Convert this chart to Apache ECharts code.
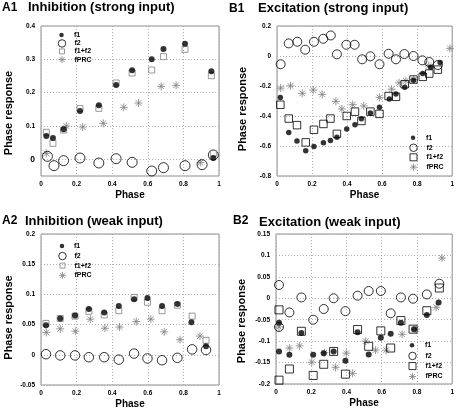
<!DOCTYPE html>
<html>
<head>
<meta charset="utf-8">
<script src="https://cdn.jsdelivr.net/npm/echarts@6/dist/echarts.min.js"></script>
<style>html,body{margin:0;padding:0;background:#fff;}#c{width:457px;height:413px;}</style>
</head>
<body>
<div id="c"></div>
<script>
// ---------- data ----------
const xTicks = [0, 0.2, 0.4, 0.6, 0.8, 1];
const A1_yTicks = [0, 0.1, 0.2, 0.3, 0.4];

const A1_f1 = [[0.030,0.070],[0.067,0.064],[0.127,0.090],[0.219,0.145],[0.325,0.162],[0.422,0.223],[0.512,0.267],[0.622,0.300],[0.688,0.331],[0.809,0.347],[0.957,0.264],[0.968,0.004]];
const A1_f2 = [[0.036,0.009],[0.073,-0.019],[0.127,-0.004],[0.219,0.004],[0.325,-0.011],[0.422,0.002],[0.512,-0.009],[0.622,-0.035],[0.688,-0.025],[0.809,-0.019],[0.905,-0.016],[0.968,0.013]];
const A1_sum = [[0.030,0.081],[0.067,0.048],[0.127,0.088],[0.219,0.152],[0.325,0.153],[0.422,0.229],[0.512,0.259],[0.622,0.268],[0.688,0.308],[0.809,0.330],[0.957,0.251],[0.968,0.018]];
const A1_prc = [[0.030,0.018],[0.142,0.100],[0.234,0.097],[0.350,0.108],[0.465,0.156],[0.548,0.169],[0.675,0.219],[0.759,0.222],[0.895,-0.010]];

const B1_f1 = [[0.019,-0.276],[0.067,-0.510],[0.114,-0.567],[0.164,-0.631],[0.211,-0.603],[0.265,-0.578],[0.305,-0.563],[0.342,-0.541],[0.398,-0.486],[0.445,-0.459],[0.482,-0.419],[0.533,-0.380],[0.585,-0.342],[0.641,-0.287],[0.679,-0.254],[0.729,-0.208],[0.779,-0.161],[0.832,-0.117],[0.878,-0.075],[0.931,-0.044]];
const B1_f2 = [[0.021,-0.055],[0.067,0.084],[0.116,0.095],[0.161,0.042],[0.211,0.095],[0.264,0.115],[0.307,0.137],[0.342,0.011],[0.396,0.075],[0.443,0.075],[0.486,-0.022],[0.533,-0.002],[0.585,-0.055],[0.637,0.015],[0.679,-0.022],[0.727,0.013],[0.779,0.000],[0.830,-0.029],[0.869,-0.040],[0.918,-0.060]];
const B1_sum = [[0.019,-0.325],[0.067,-0.417],[0.114,-0.461],[0.164,-0.576],[0.211,-0.492],[0.265,-0.453],[0.305,-0.417],[0.342,-0.519],[0.398,-0.400],[0.445,-0.371],[0.482,-0.433],[0.533,-0.371],[0.585,-0.386],[0.637,-0.267],[0.679,-0.272],[0.729,-0.188],[0.779,-0.157],[0.832,-0.139],[0.869,-0.117],[0.918,-0.091]];
const B1_prc = [[0.021,-0.214],[0.077,-0.199],[0.144,-0.249],[0.207,-0.227],[0.258,-0.256],[0.336,-0.302],[0.370,-0.353],[0.432,-0.324],[0.495,-0.333],[0.585,-0.276],[0.654,-0.221],[0.697,-0.179],[0.735,-0.166],[0.781,-0.157],[0.866,-0.066],[0.987,0.051]];

const A2_f1 = [[0.028,0.049],[0.108,0.060],[0.191,0.065],[0.269,0.076],[0.355,0.070],[0.437,0.081],[0.523,0.092],[0.598,0.094],[0.680,0.081],[0.766,0.084],[0.845,0.054],[0.927,0.014]];
const A2_f2 = [[0.028,0.001],[0.108,-0.001],[0.191,-0.001],[0.269,-0.004],[0.355,-0.004],[0.437,-0.008],[0.523,0.002],[0.598,-0.006],[0.680,-0.009],[0.766,-0.005],[0.849,0.009],[0.927,0.008]];
const A2_sum = [[0.028,0.052],[0.108,0.060],[0.191,0.064],[0.269,0.072],[0.355,0.066],[0.437,0.073],[0.523,0.095],[0.598,0.087],[0.680,0.073],[0.766,0.082],[0.849,0.064],[0.927,0.024]];
const A2_prc = [[0.030,0.037],[0.108,0.043],[0.193,0.039],[0.277,0.059],[0.359,0.044],[0.441,0.046],[0.535,0.055],[0.617,0.059],[0.692,0.038],[0.781,0.025],[0.893,0.031]];

const B2_f1 = [[0.017,-0.057],[0.017,-0.124],[0.076,-0.132],[0.144,-0.081],[0.211,-0.132],[0.271,-0.128],[0.327,-0.124],[0.394,-0.146],[0.463,-0.079],[0.526,-0.131],[0.595,-0.092],[0.651,-0.083],[0.709,-0.057],[0.783,-0.072],[0.856,-0.039],[0.923,-0.010]];
const B2_f2 = [[0.017,0.031],[0.017,-0.067],[0.076,-0.033],[0.144,0.002],[0.211,-0.050],[0.271,-0.025],[0.327,0.000],[0.394,-0.030],[0.463,0.006],[0.526,0.017],[0.595,0.017],[0.651,-0.035],[0.709,0.002],[0.778,-0.001],[0.856,0.009],[0.927,0.034]];
const B2_sum = [[0.017,-0.027],[0.017,-0.191],[0.076,-0.165],[0.144,-0.077],[0.211,-0.180],[0.271,-0.154],[0.327,-0.124],[0.394,-0.177],[0.463,-0.073],[0.526,-0.112],[0.595,-0.076],[0.651,-0.116],[0.709,-0.052],[0.778,-0.072],[0.856,-0.029],[0.927,0.024]];
const B2_prc = [[0.017,-0.067],[0.076,-0.116],[0.134,-0.111],[0.203,-0.149],[0.274,-0.127],[0.338,-0.161],[0.399,-0.128],[0.435,-0.175],[0.509,-0.100],[0.565,-0.121],[0.625,-0.121],[0.716,-0.084],[0.794,-0.072],[0.909,-0.021],[0.942,0.094]];

const seriesNames = ['f1', 'f2', 'f1+f2', 'fPRC'];
const panelLabels = ['A1', 'B1', 'A2', 'B2'];
const panelTitles = ['Inhibition (strong input)', 'Excitation (strong input)', 'Inhibition (weak input)', 'Excitation (weak input)'];
const xName = 'Phase';
const yName = 'Phase response';

// ---------- styling ----------
const FONT = '"Liberation Sans", Arial, Helvetica, sans-serif';
// the reference titles look like a tall, narrow sans: use a narrow face if installed
function hasFont(name) {
  const ctx = document.createElement('canvas').getContext('2d');
  ctx.font = 'bold 40px monospace';
  const a = ctx.measureText('Inhibition (strong input) 0123').width;
  ctx.font = 'bold 40px "' + name + '", monospace';
  const b = ctx.measureText('Inhibition (strong input) 0123').width;
  return Math.abs(a - b) > 1;
}
const NARROW = hasFont('Liberation Sans Narrow');
const TITLE_FONT = NARROW ? '"Liberation Sans Narrow", "Liberation Sans", sans-serif' : FONT;
const TITLE_SIZE = NARROW ? 15.5 : 13;
const LABEL_SIZE = NARROW ? 14 : 12;

const STAR = 'path://M5 0L5 10M0 5L10 5M1.46 1.46L8.54 8.54M1.46 8.54L8.54 1.46';
const GRAY = '#808080';
const styles = {
  f1: (s) => ({symbol: 'circle', symbolSize: s, itemStyle: {color: '#000', borderWidth: 0}}),
  f2: (s) => ({symbol: 'circle', symbolSize: s, itemStyle: {color: 'rgba(0,0,0,0)', borderColor: '#000', borderWidth: 1}}),
  sum: (s, c) => ({symbol: 'rect', symbolSize: s, itemStyle: {color: 'rgba(0,0,0,0)', borderColor: c, borderWidth: 1}}),
  prc: (s) => ({symbol: STAR, symbolSize: s, itemStyle: {color: 'rgba(0,0,0,0)', borderColor: GRAY, borderWidth: 1}})
};

const panels = [
  {grid: {left: 41, top: 26, width: 178, height: 150}, y: {min: -0.05, max: 0.4, interval: 0.05}, data: [A1_f1, A1_f2, A1_sum, A1_prc],
   sizes: [6, 10, 6, 8], sumColor: GRAY, sumLeg: 5, nameShift: 24},
  {grid: {left: 277, top: 26, width: 178, height: 150}, y: {min: -0.8, max: 0.2, interval: 0.2}, data: [B1_f1, B1_f2, B1_sum, B1_prc],
   sizes: [5.5, 9, 7.5, 8], sumColor: '#000', sumLeg: 7, nameShift: 16},
  {grid: {left: 41, top: 234, width: 178, height: 151}, y: {min: -0.05, max: 0.2, interval: 0.05}, data: [A2_f1, A2_f2, A2_sum, A2_prc],
   sizes: [6, 9.5, 6, 8], sumColor: GRAY, sumLeg: 5, nameShift: 16},
  {grid: {left: 276, top: 234, width: 178, height: 150}, y: {min: -0.2, max: 0.15, interval: 0.05}, data: [B2_f1, B2_f2, B2_sum, B2_prc],
   sizes: [6, 9, 8, 8], sumColor: '#000', sumLeg: 7, nameShift: 24}
];

// title positions and legend anchor positions (layout)
const labelPos = NARROW ? [[2, 1], [229, 2], [2, 214], [233, 214]] : [[2, 2], [229, 3], [2, 215], [233, 215]];
const titlePos = NARROW ? [[28, 0], [258, 1], [25, 214], [259, 215]] : [[28, 1], [258, 2], [25, 215], [259, 216]];
const legendPos = [
  {cx: 61.5, tx: 74, ys: [35, 43.2, 51.4, 59.6]},
  {cx: 413, tx: 426, ys: [137.7, 147.5, 157.3, 167.1]},
  {cx: 62, tx: 74, ys: [246, 255.8, 265.6, 275.4]},
  {cx: 412, tx: 425, ys: [345.3, 355.7, 366.1, 376.5]}
];

function fmtTick(v) {
  const r = Math.round(v * 1000) / 1000;
  return String(r);
}

const option = {
  animation: false,
  backgroundColor: '#fff',
  textStyle: {fontFamily: FONT},
  title: [], grid: [], xAxis: [], yAxis: [], series: [], legend: []
};

panels.forEach((p, i) => {
  option.grid.push(Object.assign({show: true, borderColor: '#8c8c8c', borderWidth: 1, backgroundColor: 'rgba(0,0,0,0)', containLabel: false}, p.grid));
  option.title.push({text: panelLabels[i], left: labelPos[i][0], top: labelPos[i][1], padding: 0,
    textStyle: {fontSize: LABEL_SIZE, fontWeight: 'bold', color: '#000', fontFamily: TITLE_FONT}});
  option.title.push({text: panelTitles[i], left: titlePos[i][0], top: titlePos[i][1], padding: 0,
    textStyle: {fontSize: TITLE_SIZE, fontWeight: 'bold', color: '#000', fontFamily: TITLE_FONT}});

  option.xAxis.push({
    type: 'value', gridIndex: i, min: 0, max: 1, interval: 0.2,
    name: xName, nameLocation: 'middle', nameGap: 14,
    nameTextStyle: {fontSize: 10, fontWeight: 'bold', color: '#000', fontFamily: FONT},
    axisLine: {show: false}, axisTick: {show: false},
    axisLabel: {fontSize: 6.5, fontWeight: 'bold', color: '#000', margin: 5, fontFamily: FONT, formatter: fmtTick},
    splitLine: {show: true, lineStyle: {type: [1, 2], color: '#b0b0b0', width: 1}}
  });

  const isA1 = i === 0;
  option.yAxis.push({
    type: 'value', gridIndex: i, min: p.y.min, max: p.y.max, interval: p.y.interval,
    name: yName, nameLocation: 'middle', nameGap: i % 2 === 0 ? 27 : 29, nameRotate: 90,
    nameTextStyle: {fontSize: 11, fontWeight: 'bold', color: '#000', fontFamily: FONT, padding: [0, p.nameShift, 0, 0]},
    axisLine: {show: false}, axisTick: {show: false},
    axisLabel: {
      fontSize: 6.5, fontWeight: 'bold', color: '#000', margin: 6, fontFamily: FONT,
      formatter: isA1 ? function (v) {
        const r = Math.round(v * 1000) / 1000;
        if (r === 0) return '{big|0}';
        if (Math.abs(Math.round(r * 10) - r * 10) < 1e-6 && r > 0) return String(r);
        return '';
      } : fmtTick,
      rich: {big: {fontSize: 8.5, fontWeight: 'bold', color: '#000', fontFamily: FONT}}
    },
    splitLine: {show: !isA1, lineStyle: {type: [1, 2], color: '#b0b0b0', width: 1}}
  });

  const keys = ['f1', 'f2', 'sum', 'prc'];
  const order = [3, 1, 2, 0];
  order.forEach((k) => {
    const st = keys[k] === 'sum' ? styles.sum(p.sizes[k], p.sumColor) : styles[keys[k]](p.sizes[k]);
    const s = Object.assign({
      type: 'scatter', name: seriesNames[k], xAxisIndex: i, yAxisIndex: i,
      data: p.data[k], silent: true, emphasis: {disabled: true}, z: 3
    }, st);
    if (isA1 && k === 3) {
      s.markLine = {
        silent: true, symbol: 'none', animation: false, z: 1,
        label: {show: false},
        lineStyle: {type: [1, 2], color: '#b0b0b0', width: 1},
        data: A1_yTicks.filter(v => v >= 0 && v < 0.4).map(v => ({yAxis: v}))
      };
    }
    option.series.push(s);
  });

  // legend (one small legend per entry so each icon keeps its own size)
  const lp = legendPos[i];
  const legSizes = [4.5, 7.5, p.sumLeg, 7];
  const legIcons = ['circle', 'circle', 'rect', STAR];
  const legStyles = [
    {color: '#000', borderWidth: 0},
    {color: 'rgba(0,0,0,0)', borderColor: '#000', borderWidth: 1},
    {color: 'rgba(0,0,0,0)', borderColor: p.sumColor, borderWidth: 1},
    {color: 'rgba(0,0,0,0)', borderColor: GRAY, borderWidth: 1}
  ];
  seriesNames.forEach((nm, k) => {
    const s = legSizes[k];
    const h = Math.max(s, 8);
    option.legend.push({
      show: true, selectedMode: false, orient: 'vertical', padding: 0, itemGap: 0,
      left: lp.cx - s / 2, top: lp.ys[k] - h / 2, itemWidth: s, itemHeight: s,
      data: [{name: nm, icon: legIcons[k], itemStyle: legStyles[k]}],
      textStyle: {fontSize: 7, fontWeight: 'bold', color: '#000', fontFamily: FONT, lineHeight: 8,
        padding: [0, 0, 0, Math.max(0, lp.tx - (lp.cx + s / 2 + 5))]}
    });
  });
});

const chart = echarts.init(document.getElementById('c'), null, {renderer: 'canvas'});
chart.setOption(option);
</script>
</body>
</html>
